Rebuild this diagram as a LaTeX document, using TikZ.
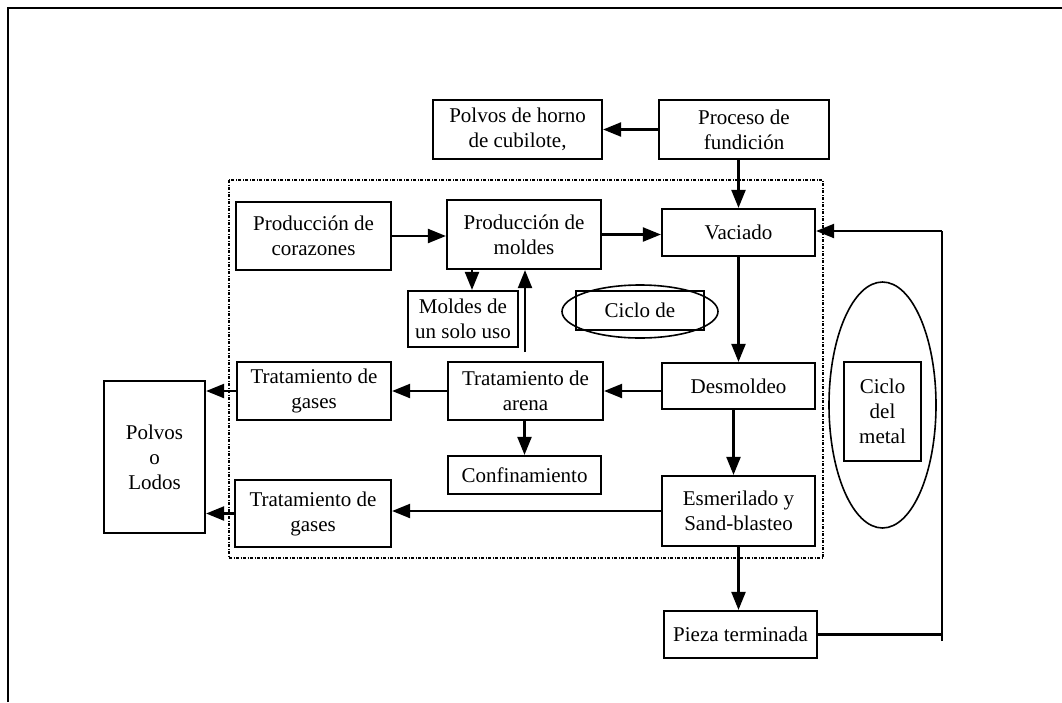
\documentclass[tikz,border=0pt]{standalone}
\usepackage{fontspec}
\setmainfont{Liberation Serif}
\usetikzlibrary{arrows.meta,shapes.geometric}
\tikzset{
  box/.style={draw, line width=2.2pt, rectangle, inner sep=0pt, align=center,
              font=\fontsize{21}{25}\selectfont},
  oval/.style={draw, line width=1.6pt, ellipse, inner sep=0pt},
  arr/.style={line width=2.2pt, -{Triangle[length=18pt,width=14pt]}},
  plain/.style={line width=2.2pt},
  frameline/.style={line width=2.6pt},
  dotbox/.style={line width=1.6pt, dash pattern=on 3pt off 1.5pt on 1pt off 1.5pt}
}
\begin{document}
\begin{tikzpicture}[x=1pt,y=-1pt]
\useasboundingbox (0,0) rectangle (1062,702);
% outer frame (top and left only)
\draw[frameline] (8,702) -- (8,8) -- (1062,8);
% dotted region
\draw[dotbox] (229,180) rectangle (823,558);
% ellipses
\node[oval, minimum width=156pt, minimum height=53pt] (ellde) at (640,311.5) {};
\node[oval, minimum width=107pt, minimum height=246pt] (ellmetal) at (882.5,405) {};
% boxes
\node[box, minimum width=169pt, minimum height=59pt] (horno) at (517.5,129.5) {Polvos de horno\\de cubilote,};
\node[box, minimum width=170pt, minimum height=59pt] (proceso) at (744,129.5) {Proceso de\\fundición};
\node[box, minimum width=153pt, minimum height=47pt] (vaciado) at (738.5,232.5) {Vaciado};
\node[box, minimum width=154pt, minimum height=69pt] (moldes) at (524,234.5) {Producción de\\moldes};
\node[box, minimum width=155pt, minimum height=68pt] (corazones) at (313.5,236) {Producción de\\corazones};
\node[box, minimum width=110pt, minimum height=56pt] (unsolo) at (463,319) {Moldes de\\un solo uso};
\node[box, minimum width=128pt, minimum height=39pt] (ciclode) at (640,310.5) {Ciclo de};
\node[box, minimum width=153pt, minimum height=46pt] (desmoldeo) at (738.5,386) {Desmoldeo};
\node[box, minimum width=155pt, minimum height=58pt] (arena) at (525.5,391) {Tratamiento de\\arena};
\node[box, minimum width=154pt, minimum height=58pt] (gases1) at (314,391) {Tratamiento de\\gases};
\node[box, minimum width=153pt, minimum height=38pt] (confin) at (524.5,475) {Confinamiento};
\node[box, minimum width=156pt, minimum height=67pt] (gases2) at (313,513.5) {Tratamiento de\\gases};
\node[box, minimum width=153pt, minimum height=70pt] (esmer) at (738.5,511) {Esmerilado y\\Sand-blasteo};
\node[box, minimum width=153pt, minimum height=47pt] (pieza) at (740.5,634.5) {Pieza terminada};
\node[box, minimum width=101pt, minimum height=152pt] (lodos) at (154.5,457) {Polvos\\o\\Lodos};
\node[box, minimum width=77pt, minimum height=99pt] (metal) at (882.5,411.5) {Ciclo\\del\\metal};
% connectors
\draw[arr] (proceso.west) -- (horno.east);
\draw[arr] (vaciado.north |- proceso.south) -- (vaciado.north);
\draw[arr] (corazones.east) -- (corazones.east -| moldes.west);
\draw[arr] (moldes.east) -- (moldes.east -| vaciado.west);
\draw[arr] ([xshift=9pt]unsolo.north |- moldes.south) -- ([xshift=9pt]unsolo.north);
\coordinate (upstart) at (525,352);
\draw[arr] (upstart) -- (upstart |- moldes.south);
\draw[arr] (vaciado.south) -- (desmoldeo.north);
\draw[arr] (arena.east -| desmoldeo.west) -- (arena.east);
\draw[arr] (arena.west) -- (gases1.east);
\draw[arr] (gases1.west) -- (gases1.west -| lodos.east);
\draw[arr] (arena.south -| confin.north) -- (confin.north);
\draw[arr] ([xshift=-5pt]desmoldeo.south) -- ([xshift=-5pt]desmoldeo.south |- esmer.north);
\draw[arr] (esmer.west) -- (esmer.west -| gases2.east);
\draw[arr] (gases2.west) -- (gases2.west -| lodos.east);
\draw[arr] (esmer.south) -- (esmer.south |- pieza.north);
\coordinate (rb) at (942,641);
\coordinate (rt) at (942,231);
\draw[plain] (pieza.east) -- (pieza.east -| rt);
\draw[plain] (rb) -- (rt);
\draw[arr] (rt) -- (rt -| vaciado.east);
\end{tikzpicture}
\end{document}
